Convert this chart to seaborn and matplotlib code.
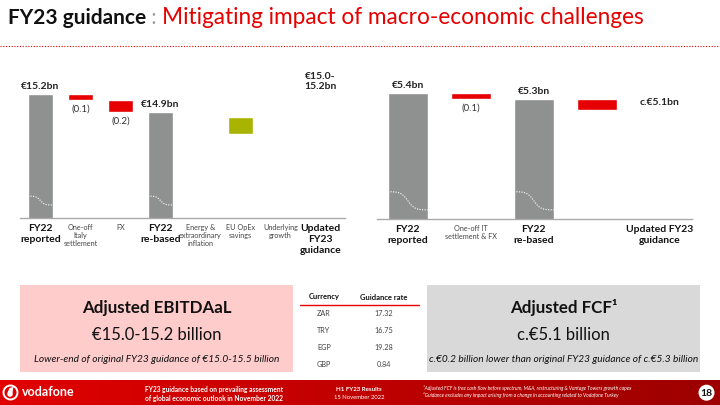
import numpy as np
import pandas as pd
import matplotlib
matplotlib.use("Agg")
import matplotlib.pyplot as plt
import matplotlib.transforms as mtransforms
from matplotlib.patches import Rectangle, Circle, Polygon
from matplotlib.colors import LinearSegmentedColormap
import seaborn as sns

W, H = 720, 405
RED = "#e60000"
GREY = "#8f9190"
GREEN = "#a8b400"
nan = np.nan

# Adjusted EBITDAaL bridge (EUR bn)
ebitda_cats = ["FY22\nreported", "One-off\nItaly\nsettlement", "FX", "FY22\nre-based",
               "Energy &\nextraordinary\ninflation", "EU OpEx\nsavings",
               "Underlying\ngrowth", "Updated\nFY23\nguidance"]
ebitda_kind = ["total", "down", "down", "total", "none", "up", "none", "target"]
ebitda_high = [15.2, 15.2, 15.1, 14.9, nan, 14.81, nan, 15.2]
ebitda_low = [nan, 15.1, 14.9, nan, nan, 14.53, nan, 15.0]
ebitda_labels = ["€15.2bn", "(0.1)", "(0.2)", "€14.9bn", "", "", "", "€15.0-\n15.2bn"]

# Adjusted FCF bridge (EUR bn)
fcf_cats = ["FY22\nreported", "One-off IT\nsettlement & FX", "FY22\nre-based", " ",
            "Updated FY23\nguidance"]
fcf_kind = ["total", "down", "total", "down", "target"]
fcf_high = [5.4, 5.4, 5.3, 5.3, 5.1]
fcf_low = [nan, 5.3, nan, 5.1, nan]
fcf_labels = ["€5.4bn", "(0.1)", "€5.3bn", "", "c.€5.1bn"]

# FX guidance rates
currencies = ["ZAR", "TRY", "EGP", "GBP"]
rates = [17.32, 16.75, 19.28, 0.84]


def px_rect(x0, y0, x1, y1):
    return [x0 / W, 1 - y1 / H, (x1 - x0) / W, (y1 - y0) / H]


def waterfall(ax, cats, kind, high, low, labels, width, wave):
    df = pd.DataFrame({"cat": cats, "value": high, "kind": kind})
    tot = df[df["kind"] == "total"]
    sns.barplot(data=tot, x="cat", y="value", order=cats, color=GREY,
                saturation=1, width=width, ax=ax)
    for i, k in enumerate(kind):
        if k in ("down", "up"):
            ax.bar(i, high[i] - low[i], bottom=low[i], width=width,
                   color=RED if k == "down" else GREEN, zorder=3)
    # dotted "axis break" on the full bars
    trans = mtransforms.blended_transform_factory(ax.transData, ax.transAxes)
    for i, k in enumerate(kind):
        if k == "total":
            t = np.linspace(0, 1, 40)
            s = 0.5 + 0.5 * np.tanh((t - 0.5) * 6)
            ys = wave[0] - (wave[0] - wave[1]) * s
            ax.plot(i - width / 2 + t * width, ys, transform=trans, color="white",
                    lw=0.8, ls=(0, (1, 1.3)), zorder=4)
    for i, k in enumerate(kind):
        lab = labels[i]
        if not lab:
            continue
        if k == "down":
            ax.annotate(lab, (i, low[i]), xytext=(0, -3.5), textcoords="offset points",
                        ha="center", va="top", fontsize=7, color="#333333")
        else:
            ax.annotate(lab, (i, high[i]), xytext=(0, 2), textcoords="offset points",
                        ha="center", va="bottom", fontsize=7.5, fontweight="bold",
                        color="#222222", linespacing=1.25)
    ax.set_xticks(range(len(cats)))
    ax.set_xticklabels(cats)
    for lab, k in zip(ax.get_xticklabels(), kind):
        if k in ("total", "target"):
            lab.set_fontsize(7.5)
            lab.set_fontweight("bold")
            lab.set_color("#111111")
            lab.set_linespacing(1.3)
        else:
            lab.set_fontsize(5.2)
            lab.set_color("#444444")
    ax.tick_params(axis="x", length=0, pad=4)
    ax.set_yticks([])
    ax.set_xlabel("")
    ax.set_ylabel("")
    sns.despine(ax=ax, left=True)
    ax.spines["bottom"].set_color("#aaaaaa")
    ax.spines["bottom"].set_linewidth(1)
    ax.set_facecolor("none")


sns.set_theme(style="white")
plt.rcParams["font.family"] = ["Lato", "DejaVu Sans"]

fig = plt.figure(figsize=(7.2, 4.05), dpi=100)
bg = fig.add_axes([0, 0, 1, 1], zorder=0)

# footer band
grad = np.linspace(0, 1, 256).reshape(1, -1)
cmap = LinearSegmentedColormap.from_list("foot", ["#e10000", "#c00000", "#9c0000"])
bg.imshow(grad, extent=(0, W, H, 380.5), aspect="auto", cmap=cmap, zorder=0)
bg.set_xlim(0, W)
bg.set_ylim(H, 0)
bg.axis("off")

# title
t1 = bg.text(8, 18, "FY23 guidance", fontsize=15, fontweight="bold", color="#111111",
             va="center", ha="left")
t2 = bg.annotate(" : ", xy=(1, 0.5), xycoords=t1, va="center", ha="left",
                 fontsize=15, color="#999999")
bg.annotate("Mitigating impact of macro-economic challenges", xy=(1, 0.5), xycoords=t2,
            va="center", ha="left", fontsize=16.3, color=RED)
bg.plot([0, W], [46, 46], color=RED, lw=0.8, ls=(0, (1, 1.5)))

# waterfalls
ax1 = fig.add_axes(px_rect(20, 60, 345, 218), zorder=1)
waterfall(ax1, ebitda_cats, ebitda_kind, ebitda_high, ebitda_low, ebitda_labels,
          0.625, (0.139, 0.082))
ax1.set_xlim(-0.51, 7.61)
ax1.set_ylim(13.1, 13.1 + 158 / 59)

ax2 = fig.add_axes(px_rect(377, 60, 692, 219), zorder=1)
waterfall(ax2, fcf_cats, fcf_kind, fcf_high, fcf_low, fcf_labels,
          0.635, (0.172, 0.057))
ax2.set_xlim(-0.49, 4.51)
ax2.set_ylim(3.1, 3.1 + 159 / 54.7)

# summary boxes
bg.add_patch(Rectangle((20, 285), 273, 87, fc="#ffcccc", ec="none"))
bg.add_patch(Rectangle((427, 285), 273, 87, fc="#d9d9d9", ec="none"))
for cx, head, val, note in [
        (156.5, "Adjusted EBITDAaL", "€15.0-15.2 billion",
         "Lower-end of original FY23 guidance of €15.0-15.5 billion"),
        (563.5, "Adjusted FCF¹", "c.€5.1 billion",
         "c.€0.2 billion lower than original FY23 guidance of c.€5.3 billion")]:
    bg.text(cx, 308, head, ha="center", va="center", fontsize=12.2, fontweight="bold",
            color="#111111")
    bg.text(cx, 335, val, ha="center", va="center", fontsize=12, color="#111111")
    bg.text(cx, 359, note, ha="center", va="center", fontsize=7.3, style="italic",
            color="#111111")

# FX table
bg.text(324, 297, "Currency", ha="center", va="center", fontsize=5.5, fontweight="bold",
        color="#111111")
bg.text(384, 297, "Guidance rate", ha="center", va="center", fontsize=5.5,
        fontweight="bold", color="#111111")
bg.plot([300, 419], [305, 305], color=RED, lw=1)
for j, (cur, r) in enumerate(zip(currencies, rates)):
    y = 314 + j * 16.8
    bg.text(324, y, cur, ha="center", va="center", fontsize=5.2, color="#444444")
    bg.text(384, y, f"{r:.2f}", ha="center", va="center", fontsize=5.2, color="#444444")

# footer content
bg.add_patch(Circle((10.5, 392.5), 7, fc="none", ec="white", lw=1.4, zorder=2))
bg.add_patch(Circle((10.0, 394.0), 2.8, fc="white", ec="none", zorder=2))
bg.add_patch(Polygon([(7.6, 392.5), (9.5, 388.0), (13.5, 386.8), (12.5, 392.8)],
                     closed=True, fc="white", ec="none", zorder=2))
bg.text(22, 392.5, "vodafone", ha="left", va="center", fontsize=9, color="white",
        fontweight="bold", zorder=3)
bg.text(214, 389.3, "FY23 guidance based on prevailing assessment", ha="center",
        va="center", fontsize=4.8, color="white", fontweight="bold", zorder=3)
bg.text(214, 398, "of global economic outlook in November 2022", ha="center",
        va="center", fontsize=4.8, color="white", fontweight="bold", zorder=3)
bg.text(359, 389.3, "H1 FY23 Results", ha="center", va="center", fontsize=4.4,
        color="white", fontweight="bold", zorder=3)
bg.text(359, 397.5, "15 November 2022", ha="center", va="center", fontsize=4.2,
        color="white", zorder=3)
bg.text(423, 388, "¹Adjusted FCF is free cash flow before spectrum, M&A, restructuring & "
        "Vantage Towers growth capex", ha="left", va="center", fontsize=3.6,
        color="white", style="italic", zorder=3)
bg.text(423, 394.5, "²Guidance excludes any impact arising from a change in accounting "
        "related to Vodafone Turkey", ha="left", va="center", fontsize=3.6,
        color="white", style="italic", zorder=3)
bg.add_patch(Circle((706.5, 392.7), 8, fc="white", ec="none", zorder=2))
bg.text(706.5, 393, "18", ha="center", va="center", fontsize=7.5, fontweight="bold",
        color="#111111", zorder=3)

fig.savefig("out.png", dpi=100)
